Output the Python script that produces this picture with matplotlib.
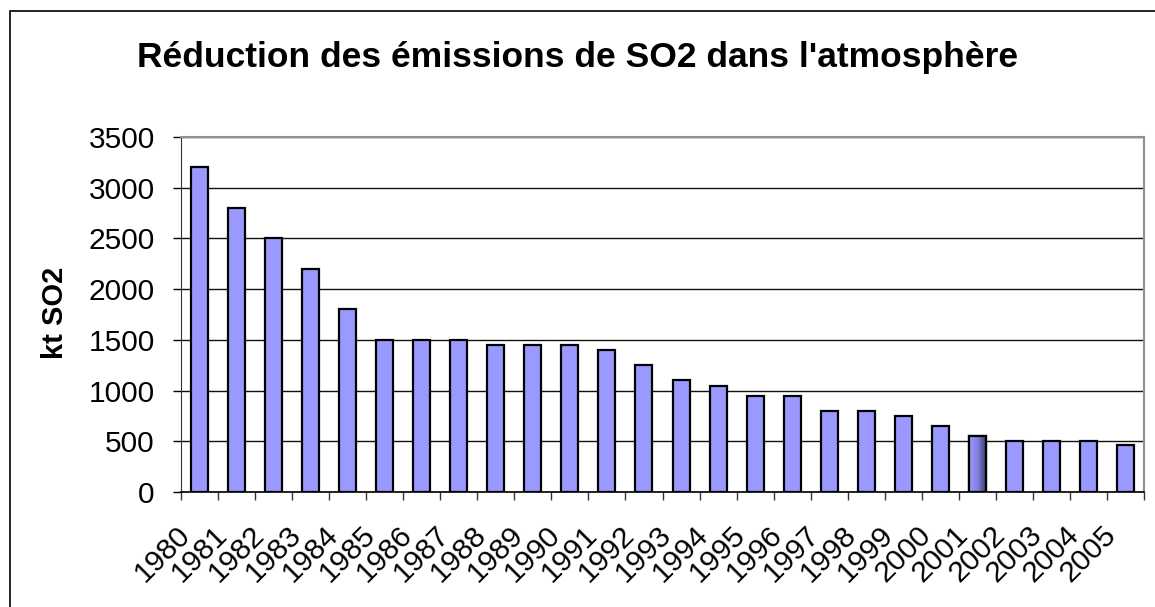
import matplotlib
matplotlib.use("Agg")
import matplotlib.pyplot as plt
import numpy as np
from matplotlib.patches import Rectangle
from matplotlib.transforms import ScaledTranslation
from matplotlib.colors import LinearSegmentedColormap

years = [str(y) for y in range(1980, 2006)]
emissions = [3200, 2800, 2500, 2200, 1800, 1500, 1500, 1500, 1450, 1450,
             1450, 1400, 1250, 1100, 1050, 950, 950, 800, 800, 750,
             650, 550, 500, 500, 500, 460]
highlight = "2001"
yticks = [0, 500, 1000, 1500, 2000, 2500, 3000, 3500]

plt.rcParams['font.family'] = ['Liberation Sans', 'DejaVu Sans']

W, H = 1155, 607
fig = plt.figure(figsize=(W / 100, H / 100), dpi=100)
ax = fig.add_axes([181 / W, 1 - 492 / H, (1144 - 181) / W, (492 - 137) / H])

x = np.arange(len(years))
bars = ax.bar(x, emissions, width=0.46, color='#9999FF', edgecolor='black',
              linewidth=1.6, zorder=3)

# gradient on highlighted bar
hi = years.index(highlight)
b = bars[hi]
grad = np.linspace(0, 1, 100).reshape(1, -1)
cmap = LinearSegmentedColormap.from_list('g', ['#9999FF', '#8080D8', '#333366'])
im = ax.imshow(grad, cmap=cmap, aspect='auto', zorder=3.5,
               extent=[b.get_x(), b.get_x() + b.get_width(), 0, b.get_height()])
im.set_clip_path(b)
ax.bar([x[hi]], [emissions[hi]], width=0.46, color='none', edgecolor='black',
       linewidth=1.6, zorder=4)

ax.set_xlim(-0.5, len(years) - 0.5)
ax.set_ylim(0, 3500)
ax.set_yticks(yticks)
ax.set_yticklabels([str(v) for v in yticks], fontsize=21.5)
ax.yaxis.grid(True, color='#111111', linewidth=1.0, zorder=0)
ax.set_axisbelow(True)

ax.set_xticks(x)
ax.set_xticks(np.arange(-0.5, len(years)), minor=True)
ax.tick_params(axis='x', which='major', length=0, pad=28)
ax.tick_params(axis='x', which='minor', length=6, width=1, color='#333333',
               direction='out')
ax.tick_params(axis='y', length=6, width=1, direction='out', pad=13)
ax.set_xticklabels(years, fontsize=21.5, rotation=45, ha='right', va='center',
                   rotation_mode='anchor')
off = ScaledTranslation(-14 / 100, 0, fig.dpi_scale_trans)
for lab in ax.get_xticklabels():
    lab.set_transform(lab.get_transform() + off)

for s in ['top', 'right']:
    ax.spines[s].set_color('#909090')
    ax.spines[s].set_linewidth(1.5)
ax.spines['left'].set_color('#333333')
ax.spines['bottom'].set_color('black')
ax.spines['bottom'].set_linewidth(1.2)

fig.text(55 / W, 1 - 313 / H, 'kt SO2', rotation=90, fontsize=21,
         fontweight='bold', ha='center', va='center')
fig.text(578 / W, 1 - 67 / H, "Réduction des émissions de SO2 dans l'atmosphère",
         fontsize=25.5, fontweight='bold', ha='center', va='baseline')

fig.patches.append(Rectangle((10 / W, -0.1), 1.2, 1.1 - 11 / H,
                             transform=fig.transFigure, fill=False,
                             edgecolor='black', linewidth=1.2))

fig.savefig('out.png', dpi=100, facecolor='white')
